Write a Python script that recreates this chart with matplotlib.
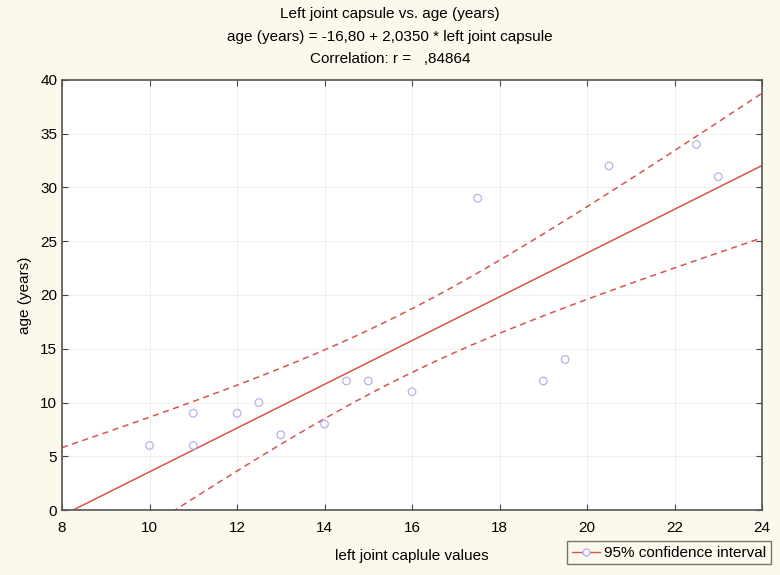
import matplotlib.pyplot as plt
import numpy as np

plt.rcParams["font.family"] = ["Liberation Sans", "DejaVu Sans"]
plt.rcParams["font.size"] = 11

# left joint capsule vs age (years)
capsule = [10, 11, 11, 12, 12.5, 13, 14, 14.5, 15, 16, 17.5, 19, 19.5, 20.5, 22.5, 23]
age = [6, 9, 6, 9, 10, 7, 8, 12, 12, 11, 29, 12, 14, 32, 34, 31]
x_ticks = [8, 10, 12, 14, 16, 18, 20, 22, 24]
y_ticks = [0, 5, 10, 15, 20, 25, 30, 35, 40]
t_crit = 2.1448  # t(0.975, df=14)

x = np.array(capsule)
y = np.array(age)
n = len(x)
slope, intercept = np.polyfit(x, y, 1)
resid = y - (intercept + slope * x)
s = np.sqrt(np.sum(resid ** 2) / (n - 2))
xs = np.linspace(8, 24, 200)
fit = intercept + slope * xs
half = t_crit * s * np.sqrt(1 / n + (xs - x.mean()) ** 2 / np.sum((x - x.mean()) ** 2))

bg = "#fbf8ec"
red = "#d9534f"
fig = plt.figure(figsize=(7.8, 5.75), dpi=100, facecolor=bg)
ax = fig.add_axes([0.0795, 0.113, 0.8975, 0.748])
ax.set_facecolor("white")

ax.plot(xs, fit, color=red, lw=1.1)
ax.plot(xs, fit + half, color=red, lw=1.1, ls=(0, (4, 3)))
ax.plot(xs, fit - half, color=red, lw=1.1, ls=(0, (4, 3)))
ax.scatter(x, y, s=30, facecolors="none", edgecolors="#b4b4e6", linewidths=0.9, zorder=3)

ax.set_xlim(8, 24)
ax.set_ylim(0, 40)
ax.set_xticks(x_ticks)
ax.set_yticks(y_ticks)
ax.grid(True, color="#ececec", lw=0.6)
ax.tick_params(direction="in", length=4, color="#444444", labelsize=11, right=True, top=True)
ax.tick_params(axis="x", pad=8)
for sp in ax.spines.values():
    sp.set_color("#555555")
    sp.set_linewidth(1.2)

ax.set_xlabel("left joint caplule values", labelpad=10)
ax.set_ylabel("age (years)", labelpad=6)

fig.text(0.5, 0.975, "Left joint capsule vs. age (years)", ha="center", va="center")
fig.text(0.5, 0.935, "age (years) = -16,80 + 2,0350 * left joint capsule", ha="center", va="center")
fig.text(0.5, 0.897, "Correlation: r =   ,84864", ha="center", va="center")

h = plt.Line2D([], [], color=red, lw=1.0, marker="o", markersize=5,
               markerfacecolor="white", markeredgecolor="#b4b4e6")
fig.legend([h], ["95% confidence interval"], loc="lower right", bbox_to_anchor=(0.998, 0.005),
           frameon=True, fancybox=False, edgecolor="#555555", facecolor=bg,
           handlelength=1.8, handletextpad=0.3, borderpad=0.3, fontsize=11)

fig.savefig("out.png", dpi=100, facecolor=bg)
